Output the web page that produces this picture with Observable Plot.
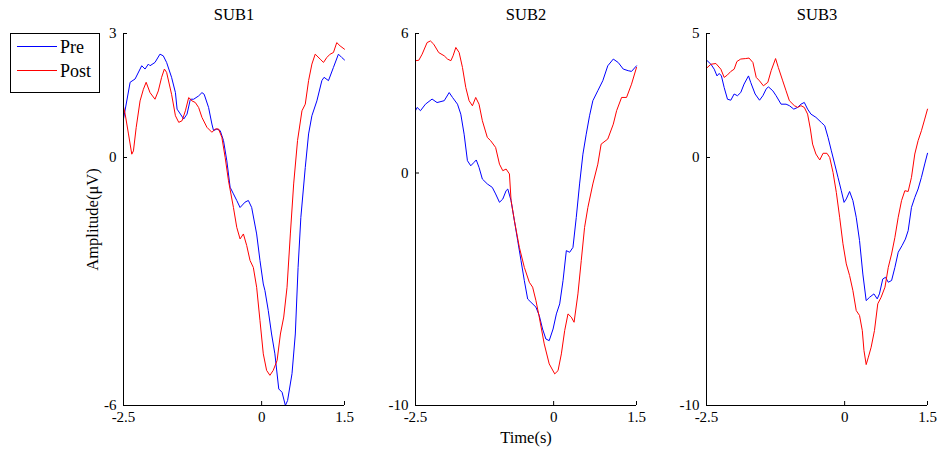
<!DOCTYPE html>
<html>
<head>
<meta charset="utf-8">
<script src="https://cdn.jsdelivr.net/npm/d3@7"></script>
<script src="https://cdn.jsdelivr.net/npm/@observablehq/plot@0.6"></script>
<style>
  html, body { margin: 0; padding: 0; background: #fff; }
  #chart { position: relative; width: 939px; height: 449px; background: #fff;
           font-family: 'Liberation Serif', 'Times New Roman', serif; overflow: hidden; }
  #chart svg { position: absolute; top: 0; overflow: visible; }
  #legend { position: absolute; left: 10px; top: 33px; width: 90px; height: 60px;
            box-sizing: border-box; border: 1px solid #000; background: #fff; z-index: 2; }
  #legend .ln { position: absolute; left: 6px; width: 40px; height: 1px; }
  #legend .lb { position: absolute; left: 49px; font-size: 18px; line-height: 18px; color: #000; }
</style>
</head>
<body>
<div id="chart">
  <div id="legend">
    <div class="ln" style="top:12px;background:#0000ff"></div>
    <div class="lb" style="top:4px">Pre</div>
    <div class="ln" style="top:36px;background:#ff0000"></div>
    <div class="lb" style="top:28px">Post</div>
  </div>
</div>
<script>
// ---- data: [time (s), amplitude (µV)] ----
const panelTitles = ["SUB1", "SUB2", "SUB3"];
const seriesNames = ["Pre", "Post"];
const xTicks = [-2.5, 0, 1.5];
const yTicks1 = [-6, 0, 3];
const yTicks2 = [-10, 0, 6];
const yTicks3 = [-10, 0, 5];

const sub1Pre = [[-2.5,0.93],[-2.38,1.82],[-2.29,1.90],[-2.17,2.22],[-2.11,2.14],[-2.05,2.26],[-2.02,2.22],[-1.93,2.30],[-1.84,2.50],[-1.78,2.46],[-1.72,2.30],[-1.63,1.94],[-1.56,1.57],[-1.53,1.17],[-1.47,1.05],[-1.41,0.93],[-1.35,1.05],[-1.29,1.41],[-1.23,1.41],[-1.14,1.49],[-1.08,1.57],[-1.04,1.53],[-0.96,1.21],[-0.90,0.81],[-0.87,0.65],[-0.81,0.69],[-0.75,0.65],[-0.69,0.41],[-0.63,-0.08],[-0.57,-0.72],[-0.51,-0.88],[-0.45,-1.04],[-0.39,-1.21],[-0.30,-1.08],[-0.24,-1.04],[-0.18,-1.21],[-0.09,-1.85],[-0.03,-2.49],[0.03,-3.06],[0.06,-3.22],[0.12,-3.70],[0.18,-4.27],[0.24,-4.75],[0.31,-5.60],[0.37,-5.68],[0.43,-6.00],[0.47,-5.88],[0.55,-5.23],[0.61,-4.27],[0.66,-2.66],[0.71,-1.45],[0.79,-0.24],[0.85,0.57],[0.91,1.01],[1.00,1.37],[1.09,1.86],[1.13,1.94],[1.21,1.86],[1.30,2.18],[1.39,2.50],[1.45,2.42],[1.50,2.36]];
const sub1Post = [[-2.5,1.23],[-2.47,1.05],[-2.41,0.57],[-2.35,0.08],[-2.32,0.16],[-2.27,0.73],[-2.20,1.37],[-2.14,1.65],[-2.09,1.82],[-2.02,1.57],[-1.93,1.41],[-1.87,1.61],[-1.81,1.94],[-1.76,2.14],[-1.72,2.06],[-1.63,1.53],[-1.56,1.01],[-1.50,0.85],[-1.44,0.89],[-1.38,1.13],[-1.32,1.45],[-1.26,1.37],[-1.20,1.33],[-1.14,1.21],[-1.08,0.97],[-0.99,0.73],[-0.90,0.61],[-0.84,0.69],[-0.78,0.69],[-0.72,0.49],[-0.66,0.00],[-0.60,-0.56],[-0.51,-1.21],[-0.45,-1.69],[-0.39,-1.97],[-0.33,-1.85],[-0.27,-2.13],[-0.21,-2.49],[-0.15,-2.66],[-0.09,-3.14],[-0.03,-3.94],[0.03,-4.75],[0.09,-5.15],[0.15,-5.27],[0.21,-5.15],[0.28,-4.91],[0.34,-4.27],[0.40,-3.86],[0.46,-3.14],[0.52,-1.85],[0.58,-0.64],[0.65,0.41],[0.73,1.13],[0.79,1.29],[0.85,1.86],[0.91,2.26],[0.97,2.50],[1.06,2.38],[1.12,2.30],[1.18,2.42],[1.24,2.50],[1.30,2.54],[1.36,2.78],[1.42,2.70],[1.50,2.62]];

const sub2Pre = [[-2.50,2.68],[-2.47,2.82],[-2.41,2.68],[-2.32,2.96],[-2.20,3.18],[-2.11,3.03],[-1.98,3.11],[-1.89,3.46],[-1.83,3.25],[-1.74,2.96],[-1.68,2.53],[-1.62,1.67],[-1.56,0.53],[-1.50,0.31],[-1.44,0.46],[-1.40,0.56],[-1.35,0.24],[-1.29,-0.26],[-1.20,-0.47],[-1.11,-0.62],[-1.05,-0.90],[-0.98,-1.26],[-0.92,-1.12],[-0.86,-0.76],[-0.83,-0.69],[-0.77,-1.19],[-0.71,-2.05],[-0.65,-2.91],[-0.59,-3.77],[-0.53,-4.63],[-0.47,-5.42],[-0.41,-5.56],[-0.32,-5.77],[-0.26,-6.13],[-0.20,-6.71],[-0.14,-7.14],[-0.08,-7.21],[-0.01,-6.71],[0.05,-6.06],[0.11,-5.63],[0.17,-4.63],[0.23,-3.34],[0.29,-3.41],[0.35,-3.20],[0.41,-1.91],[0.47,-0.47],[0.53,0.81],[0.59,1.67],[0.65,2.46],[0.71,3.11],[0.80,3.54],[0.89,3.97],[0.98,4.61],[1.08,4.90],[1.17,4.75],[1.26,4.47],[1.35,4.40],[1.41,4.37],[1.50,4.61]];
const sub2Post = [[-2.50,4.83],[-2.44,4.85],[-2.38,5.11],[-2.29,5.61],[-2.23,5.68],[-2.17,5.54],[-2.08,5.18],[-1.98,5.04],[-1.92,4.90],[-1.86,4.83],[-1.82,5.04],[-1.77,5.40],[-1.71,5.18],[-1.65,4.54],[-1.59,3.68],[-1.53,3.11],[-1.47,2.89],[-1.41,3.25],[-1.35,2.96],[-1.29,2.25],[-1.20,1.53],[-1.14,1.39],[-1.05,1.10],[-0.98,0.38],[-0.92,0.10],[-0.86,0.17],[-0.80,-0.04],[-0.77,-1.19],[-0.71,-2.05],[-0.62,-3.20],[-0.53,-4.06],[-0.44,-4.70],[-0.38,-4.91],[-0.32,-5.49],[-0.26,-6.20],[-0.17,-7.35],[-0.08,-8.21],[0.02,-8.64],[0.08,-8.50],[0.14,-7.78],[0.20,-6.78],[0.26,-6.06],[0.32,-6.20],[0.37,-6.42],[0.44,-5.20],[0.50,-3.77],[0.56,-2.34],[0.62,-1.48],[0.71,-0.47],[0.80,0.38],[0.86,1.24],[0.98,1.46],[1.08,2.10],[1.14,2.68],[1.23,3.25],[1.32,3.25],[1.41,3.82],[1.50,4.54]];

const sub3Pre = [[-2.50,3.93],[-2.42,3.76],[-2.36,3.56],[-2.31,3.29],[-2.27,3.39],[-2.23,3.29],[-2.18,2.82],[-2.12,2.35],[-2.06,2.31],[-2.00,2.56],[-1.94,2.49],[-1.88,2.62],[-1.82,2.96],[-1.74,3.29],[-1.70,3.03],[-1.62,2.56],[-1.54,2.31],[-1.48,2.49],[-1.42,2.76],[-1.38,2.85],[-1.30,2.69],[-1.24,2.49],[-1.15,2.15],[-1.06,2.15],[-1.00,2.09],[-0.92,1.95],[-0.85,2.02],[-0.79,2.15],[-0.73,2.22],[-0.67,1.95],[-0.61,1.75],[-0.52,1.62],[-0.42,1.41],[-0.36,1.28],[-0.30,0.81],[-0.24,0.27],[-0.18,-0.26],[-0.12,-0.80],[-0.06,-1.34],[-0.01,-1.81],[0.03,-1.67],[0.09,-1.37],[0.15,-1.74],[0.21,-2.41],[0.27,-3.35],[0.33,-4.70],[0.39,-5.77],[0.45,-5.64],[0.53,-5.50],[0.59,-5.70],[0.63,-5.50],[0.69,-4.90],[0.74,-4.83],[0.79,-5.03],[0.85,-4.96],[0.91,-4.43],[0.97,-3.82],[1.04,-3.55],[1.10,-3.29],[1.15,-2.95],[1.21,-2.01],[1.27,-1.61],[1.33,-1.27],[1.39,-0.80],[1.45,-0.26],[1.50,0.17]];
const sub3Post = [[-2.50,3.60],[-2.42,3.76],[-2.33,3.79],[-2.24,3.56],[-2.18,3.23],[-2.12,3.33],[-2.06,3.47],[-2.00,3.56],[-1.95,3.87],[-1.88,3.97],[-1.79,3.99],[-1.73,4.01],[-1.66,3.83],[-1.60,3.23],[-1.54,3.09],[-1.47,2.89],[-1.39,3.03],[-1.33,3.50],[-1.25,3.99],[-1.20,3.63],[-1.12,3.09],[-1.06,2.69],[-1.00,2.29],[-0.91,2.09],[-0.85,2.02],[-0.79,2.09],[-0.73,2.02],[-0.67,1.75],[-0.62,1.15],[-0.58,0.54],[-0.52,0.14],[-0.45,-0.10],[-0.39,0.17],[-0.32,0.17],[-0.27,0.00],[-0.21,-0.60],[-0.15,-1.41],[-0.09,-2.41],[-0.03,-3.48],[0.03,-4.29],[0.09,-4.76],[0.15,-5.37],[0.21,-6.17],[0.27,-6.37],[0.32,-6.98],[0.35,-7.78],[0.39,-8.35],[0.43,-8.05],[0.48,-7.65],[0.54,-6.98],[0.60,-5.90],[0.66,-5.64],[0.73,-5.23],[0.79,-4.43],[0.85,-3.89],[0.91,-3.22],[0.97,-2.41],[1.03,-1.74],[1.09,-1.34],[1.15,-1.37],[1.21,-0.80],[1.27,0.14],[1.33,0.68],[1.39,1.08],[1.45,1.55],[1.50,1.95]];

const colors = { Pre: "#0000ff", Post: "#ff0000" };
const fontFamily = "'Liberation Serif', 'Times New Roman', serif";
const fmt = d => String(d);

function panel({ left, marginLeft, title, yTicks, pre, post, extra = [] }) {
  const yDomain = [yTicks[0], yTicks[yTicks.length - 1]];
  const frameW = 221;
  const svg = Plot.plot({
    width: marginLeft + frameW + 10,
    height: 449,
    marginLeft,
    marginRight: 10,
    marginTop: 33,
    marginBottom: 44,
    style: { fontSize: "15px", fontFamily, background: "transparent", color: "#000", overflow: "visible" },
    x: { domain: [xTicks[0], xTicks[xTicks.length - 1]] },
    y: { domain: yDomain },
    marks: [
      Plot.line(pre, { x: d => d[0], y: d => d[1], stroke: colors.Pre, strokeWidth: 1 }),
      Plot.line(post, { x: d => d[0], y: d => d[1], stroke: colors.Post, strokeWidth: 1 }),
      Plot.ruleX([xTicks[0]], { stroke: "#000" }),
      Plot.ruleY([yDomain[0]], { stroke: "#000" }),
      Plot.axisX({ ticks: xTicks, tickSize: -4, tickPadding: 10, tickFormat: fmt, label: null, fontSize: 15 }),
      Plot.axisY({ ticks: yTicks, tickSize: -4, tickPadding: 11, tickFormat: fmt, label: null, fontSize: 15 }),
      Plot.text([title], { frameAnchor: "top", dy: -19, lineAnchor: "middle", fontSize: 16.5 }),
      ...extra
    ]
  });
  svg.style.left = left + "px";
  document.getElementById("chart").appendChild(svg);
}

panel({
  left: 0, marginLeft: 123, title: panelTitles[0], yTicks: yTicks1, pre: sub1Pre, post: sub1Post,
  extra: [Plot.text(["Amplitude(μV)"], { frameAnchor: "left", rotate: -90, dx: -31, lineAnchor: "middle", textAnchor: "middle", fontSize: 16.5 })]
});
panel({
  left: 375, marginLeft: 40, title: panelTitles[1], yTicks: yTicks2, pre: sub2Pre, post: sub2Post,
  extra: [Plot.text(["Time(s)"], { frameAnchor: "bottom", dy: 32, lineAnchor: "middle", fontSize: 16.5 })]
});
panel({
  left: 666, marginLeft: 40, title: panelTitles[2], yTicks: yTicks3, pre: sub3Pre, post: sub3Post
});
</script>
</body>
</html>
